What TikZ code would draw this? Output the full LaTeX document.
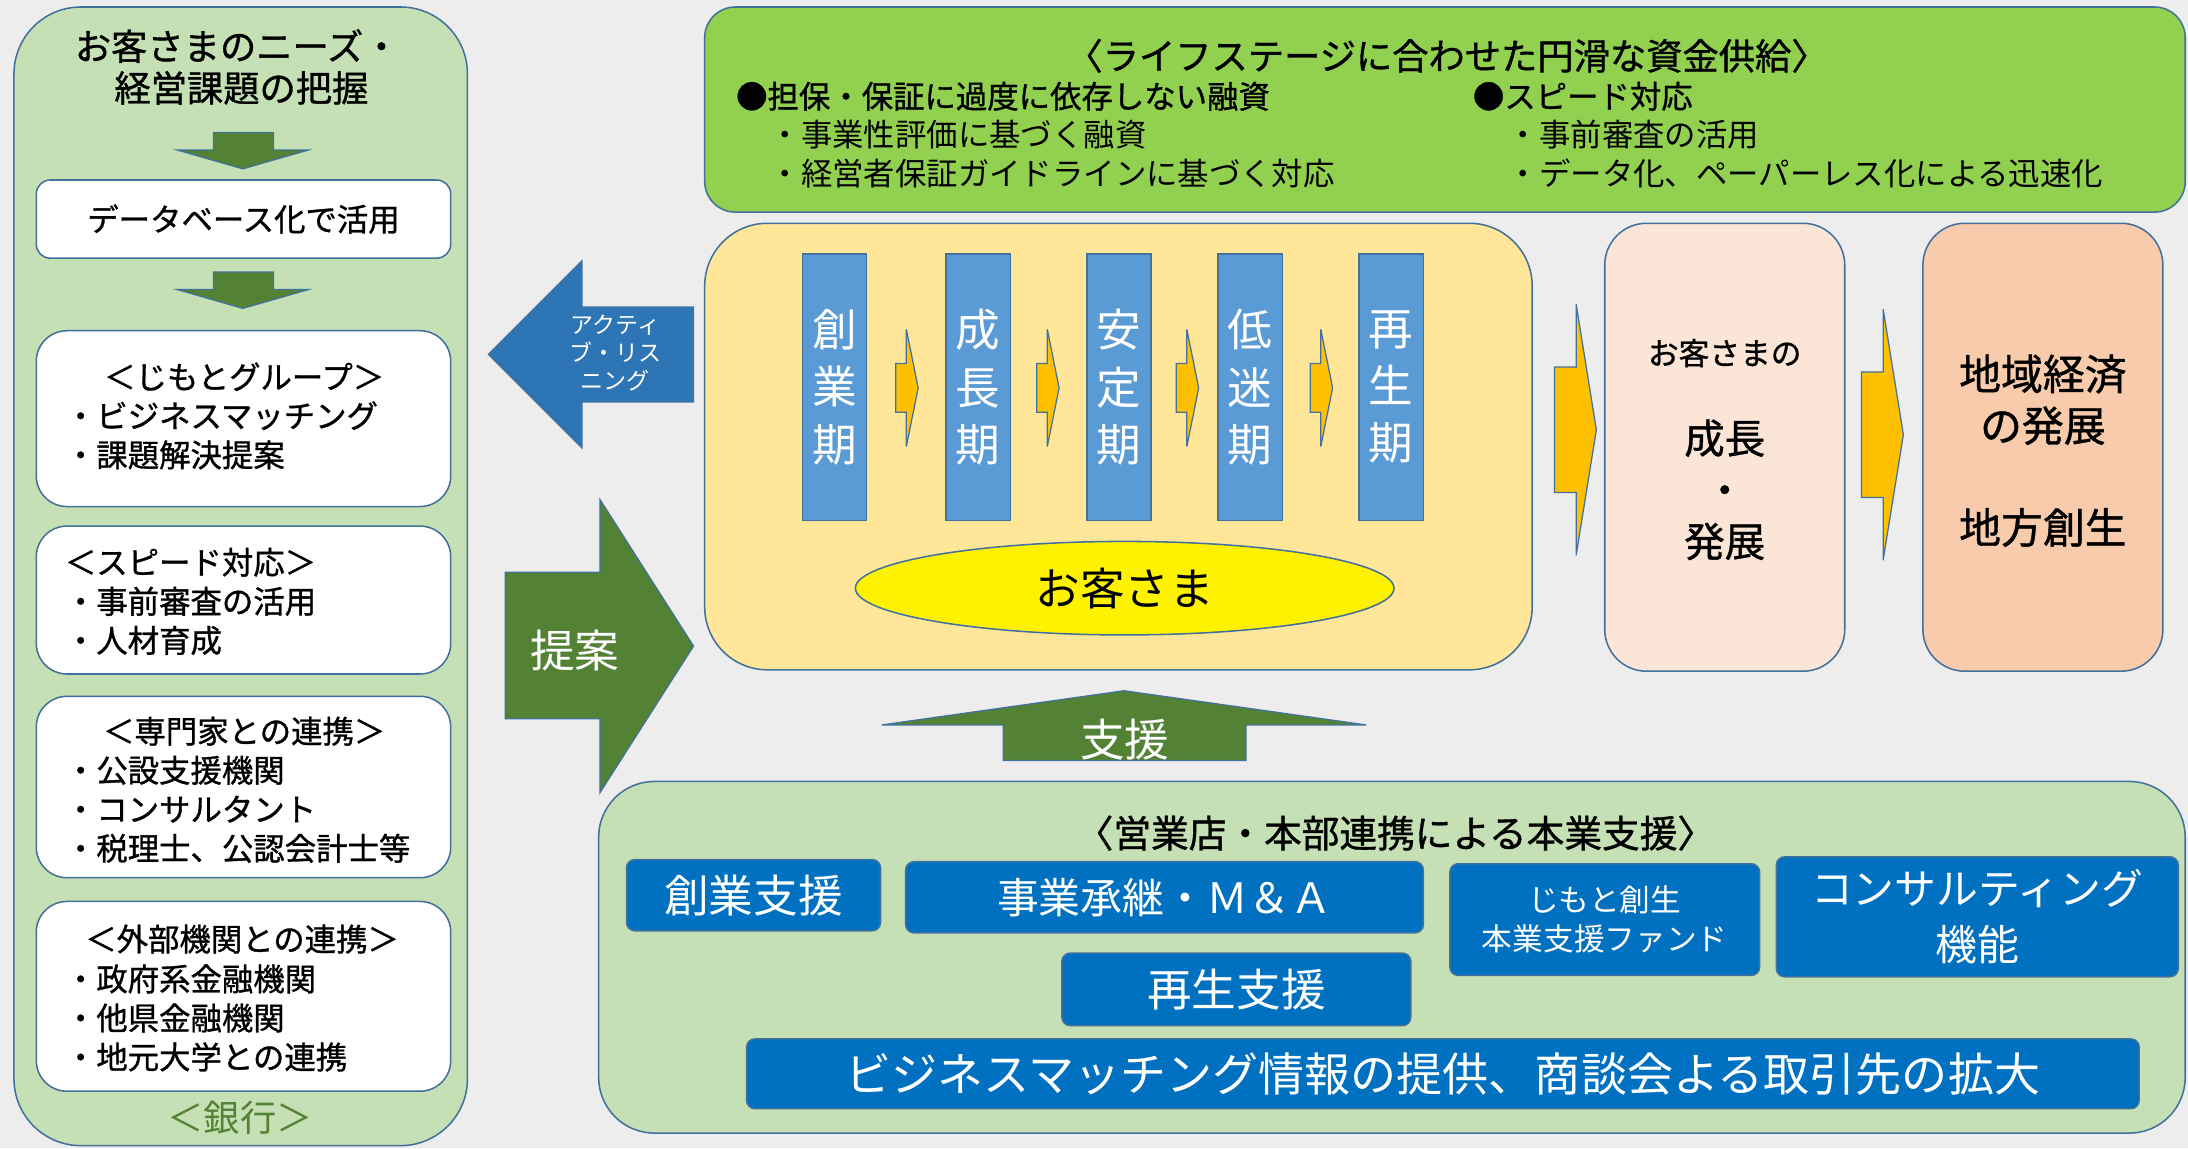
\documentclass[tikz,border=0pt]{standalone}
\usepackage{fontspec}
\setmainfont{Noto Sans CJK JP}
\newfontfamily\heavy{Noto Sans CJK JP}[FakeBold=1]
\usetikzlibrary{shapes.geometric}

\definecolor{bggray}{HTML}{EDEDED}
\definecolor{edge}{HTML}{41719C}
\definecolor{lightgreen}{HTML}{C5E0B4}
\definecolor{limegreen}{HTML}{92D050}
\definecolor{leafgreen}{HTML}{548235}
\definecolor{arrowblue}{HTML}{2E75B6}
\definecolor{cream}{HTML}{FFE699}
\definecolor{stageblue}{HTML}{5B9BD5}
\definecolor{amber}{HTML}{FFC000}
\definecolor{peach}{HTML}{FBE5D6}
\definecolor{salmon}{HTML}{F8CBAD}
\definecolor{deepblue}{HTML}{0070C0}

\newcommand{\jsize}[2]{\fontsize{#1}{#2}\selectfont}

\begin{document}
\begin{tikzpicture}[x=1pt, y=-1pt, line width=1.1pt,
    panel/.style={draw=edge, fill=lightgreen, rounded corners=48pt},
    wbox/.style={draw=edge, fill=white, rounded corners=22pt, minimum width=297pt},
    txt/.style={inner sep=0pt, font=\heavy\jsize{22.5}{28}},
    list/.style={txt, anchor=west, align=left},
    stagebar/.style={draw=edge, fill=stageblue, minimum width=46pt, minimum height=191pt,
        inner sep=0pt, text=white, align=center, font=\jsize{32}{41}},
    bluebox/.style={draw=edge, fill=deepblue, rounded corners=6pt, text=white,
        inner sep=0pt, align=center},
    blockarrow/.style={draw=edge, line width=0.9pt}]

    \useasboundingbox (0,0) rectangle (1568,823);
    \fill[bggray] (0,0) rectangle (1568,823);

    \node[panel, minimum width=325pt, minimum height=816pt] (bank) at (172.5,413) {};
    \node[txt, font=\heavy\jsize{26}{30}] (needs1) at (170,33) {お客さまのニーズ・};
    \node[txt, font=\heavy\jsize{26}{30}] (needs2) at (173,63) {経営課題の把握};

    \foreach \y in {95,195}
        \filldraw[blockarrow, fill=leafgreen, shift={(174,\y)}] (-21,0) -- (22,0) -- (22,12.5)
            -- (47,12.5) -- (0,26) -- (-47,12.5) -- (-21,12.5) -- cycle;

    \node[wbox, rounded corners=10pt, minimum height=56pt, font=\heavy\jsize{22.5}{28}] (db) at (174.5,157) {データベース化で活用};

    \node[wbox, minimum height=126pt] (jimoto) at (174.5,300) {};
    \node[txt] (jimotohead) at (175,270) {＜じもとグループ＞};
    \node[list] (jimotolist) at (46,312) {・ビジネスマッチング\\・課題解決提案};

    \node[wbox, minimum height=106pt] (speed) at (174.5,430) {};
    \node[list] (speedlist) at (46,431) {＜スピード対応＞\\・事前審査の活用\\・人材育成};

    \node[wbox, minimum height=130pt] (senmon) at (174.5,564) {};
    \node[txt] (senmonhead) at (175,524) {＜専門家との連携＞};
    \node[list] (senmonlist) at (46,580) {・公設支援機関\\・コンサルタント\\・税理士、公認会計士等};

    \node[wbox, minimum height=136pt] (gaibu) at (174.5,714) {};
    \node[txt] (gaibuhead) at (173.5,673) {＜外部機関との連携＞};
    \node[list] (gaibulist) at (46,729.5) {・政府系金融機関\\・他県金融機関\\・地元大学との連携};

    \node[txt, text=leafgreen, font=\jsize{26}{30}] (banklabel) at (172,801) {＜銀行＞};

    \filldraw[blockarrow, fill=arrowblue] (350,254) -- (417,187) -- (417,220) -- (497,220)
        -- (497,288) -- (417,288) -- (417,321) -- cycle;
    \node[txt, text=white, align=center, font=\jsize{16.5}{20}] (listen) at (441,253) {アクティ\\ブ・リス\\ニング};

    \filldraw[blockarrow, fill=leafgreen] (362,410) -- (430,410) -- (430,358) -- (497,463)
        -- (430,568) -- (430,515) -- (362,515) -- cycle;
    \node[txt, text=white, font=\jsize{32}{36}] (propose) at (412,466) {提案};

    \node[draw=edge, fill=limegreen, rounded corners=22pt, minimum width=1061pt, minimum height=147pt] (supply) at (1035.5,78.5) {};
    \node[txt, font=\heavy\jsize{26}{30}] (supplyhead) at (1037,40) {〈ライフステージに合わせた円滑な資金供給〉};
    \node[list] (loan) at (527,69) {●担保・保証に過度に依存しない融資};
    \node[list, font=\jsize{22.5}{28}] (loanlist) at (551,110.5) {・事業性評価に基づく融資\\・経営者保証ガイドラインに基づく対応};
    \node[list] (fast) at (1055,69) {●スピード対応};
    \node[list, font=\jsize{22.5}{28}] (fastlist) at (1080,110.5) {・事前審査の活用\\・データ化、ペーパーレス化による迅速化};

    \node[draw=edge, fill=cream, rounded corners=45pt, minimum width=593pt, minimum height=320pt] (stages) at (801.5,320) {};

    \foreach \n/\x/\lbl in {1/598/{創\\業\\期}, 2/701/{成\\長\\期}, 3/802/{安\\定\\期}, 4/896/{低\\迷\\期}, 5/997/{再\\生\\期}}
        \node[stagebar] (s\n) at (\x,277.5) {\lbl};

    \foreach \x in {650,751,851,947}
        \filldraw[blockarrow, fill=amber, shift={(\x,278)}] (-8,-17.5) -- (-0.5,-17.5) -- (-0.5,-42)
            -- (8,0) -- (-0.5,42) -- (-0.5,17.5) -- (-8,17.5) -- cycle;

    \node[draw=edge, fill=yellow, ellipse, minimum width=386pt, minimum height=67pt, font=\jsize{32}{36}] (customer) at (806,421.5) {お客さま};

    \foreach \x/\y in {1144/308, 1364/311.5}
        \filldraw[blockarrow, fill=amber, shift={(\x,\y)}] (-30,-45) -- (-14.5,-45) -- (-14.5,-90)
            -- (0,0) -- (-14.5,90) -- (-14.5,45) -- (-30,45) -- cycle;

    \node[draw=edge, fill=peach, rounded corners=30pt, minimum width=172pt, minimum height=321pt] (growth) at (1236,320.5) {};
    \node[txt, font=\heavy\jsize{22}{26}] (growth1) at (1236,253) {お客さまの};
    \node[txt, align=center, font=\heavy\jsize{29}{37}] (growth2) at (1236,351) {成長\\・\\発展};

    \node[draw=edge, fill=salmon, rounded corners=30pt, minimum width=172pt, minimum height=321pt] (region) at (1464,320.5) {};
    \node[txt, align=center, font=\heavy\jsize{30}{37}] (region1) at (1464,286.5) {地域経済\\の発展};
    \node[txt, font=\heavy\jsize{30}{37}] (region2) at (1464,378) {地方創生};

    \filldraw[blockarrow, fill=leafgreen] (805.5,495) -- (979,519.5) -- (893,519.5) -- (893,545)
        -- (719,545) -- (719,519.5) -- (632,519.5) -- cycle;
    \node[txt, text=white, font=\jsize{32}{36}] (support) at (806,530) {支援};

    \node[panel, rounded corners=40pt, minimum width=1137pt, minimum height=252pt] (honbu) at (997.5,686) {};
    \node[txt, font=\heavy\jsize{27}{30}] (honbuhead) at (1000,597) {〈営業店・本部連携による本業支援〉};

    \node[bluebox, minimum width=182pt, minimum height=51pt, font=\jsize{32}{36}] (sogyo) at (540,641.5) {創業支援};
    \node[bluebox, minimum width=371pt, minimum height=51pt, font=\jsize{30}{36}] (shokei) at (834.5,643) {事業承継・Ｍ＆Ａ};
    \node[bluebox, minimum width=222pt, minimum height=80pt, font=\jsize{22}{28}] (fund) at (1150,659) {じもと創生\\本業支援ファンド};
    \node[bluebox, minimum width=288pt, minimum height=86pt, font=\jsize{30}{40}] (consult) at (1417,657) {コンサルティング\\機能};
    \node[bluebox, minimum width=250pt, minimum height=52pt, font=\jsize{32}{36}] (saisei) at (886,709) {再生支援};
    \node[bluebox, minimum width=998pt, minimum height=50pt, font=\jsize{33}{36}] (matching) at (1034,769.5) {ビジネスマッチング情報の提供、商談会よる取引先の拡大};

\end{tikzpicture}
\end{document}
